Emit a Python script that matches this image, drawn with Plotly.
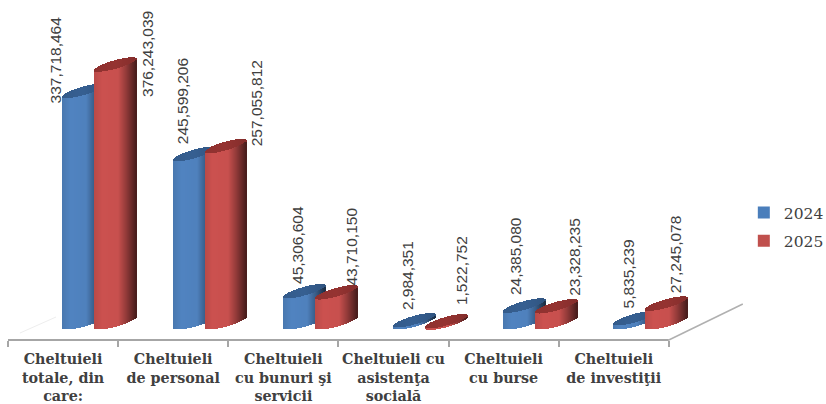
import numpy as np
import plotly.graph_objects as go

categories = ["Cheltuieli<br>totale, din<br>care:", "Cheltuieli<br>de personal",
              "Cheltuieli<br>cu bunuri şi<br>servicii", "Cheltuieli cu<br>asistenţa<br>socială",
              "Cheltuieli<br>cu burse", "Cheltuieli<br>de investiţii"]
values_2024 = [337718464, 245599206, 45306604, 2984351, 24385080, 5835239]
values_2025 = [376243039, 257055812, 43710150, 1522752, 23328235, 27245078]

# pixel geometry of the pseudo-3D look (style only)
W, H = 826, 404
AX_L, AX_Y = 8, 340
PX_X = 110.17
AX_END = AX_L + 6 * PX_X          # end of the drawn category axis
PLOT_R = AX_L + 7 * PX_X          # plot area runs one slot further for the perspective offset
PX_PER_UNIT = 0.685e-6
ZERO_Y = 322.25
HALF_W, TILT, MINOR = 21, 5.75, 4.4
OFFSETS = {"2024": 76, "2025": 108}
LABEL_DX = {"2024": [-29, -12, -7, -7, -9, -6], "2025": [31, 30, 15, 15, 18, 9]}
LABEL_DY = {"2024": [-14, 8, 5.5, 8, 8, 8], "2025": [-34.5, -2, 5, 14, 8, 8]}


def shade(u, base, stops_u, factors):
    f = np.interp(u, stops_u, factors)
    r = np.clip(np.array(base) * f, 0, 255).astype(int)
    return f"rgb({r[0]},{r[1]},{r[2]})"


def cylinder_trace(name, values, body, cap, legend_color):
    body_stops = ([-1, -0.6, 0.15, 0.55, 1], [0.93, 1.02, 1.0, 0.72, 0.36])
    cap_stops = ([-1, 0, 1], [0.95, 1.0, 0.88])
    xs, bases, heights, colors = [0.0], [0.0], [0.0], [legend_color]
    us = (np.arange(2 * HALF_W) + 0.5) / HALF_W - 1
    for i, v in enumerate(values):
        cx = i + OFFSETS[name] / PX_X
        for u in us:
            x = cx + u * HALF_W / PX_X
            mid = TILT * u
            half = MINOR * np.sqrt(1 - u * u)
            low = (mid - half) / PX_PER_UNIT
            up = (mid + half) / PX_PER_UNIT
            xs += [x, x]
            bases += [low, low + v]
            heights += [v, up - low]
            colors += [shade(u, body, *body_stops), shade(u, cap, *cap_stops)]
    return go.Bar(x=xs, y=heights, base=bases, width=1.25 / PX_X, name=name,
                  marker=dict(color=colors, line=dict(width=0)), hoverinfo="skip",
                  legendgroup=name)


fig = go.Figure()
fig.add_trace(cylinder_trace("2024", values_2024, (79, 129, 189), (55, 96, 146), "#4a7ebb"))
fig.add_trace(cylinder_trace("2025", values_2025, (200, 80, 78), (150, 52, 50), "#c0504d"))

for name, vals in (("2024", values_2024), ("2025", values_2025)):
    for i, v in enumerate(vals):
        fig.add_annotation(x=i + (OFFSETS[name] + LABEL_DX[name][i]) / PX_X, y=v, yshift=LABEL_DY[name][i],
                           text=f"{v:,}", textangle=-90, showarrow=False, yanchor="bottom", xanchor="center",
                           font=dict(family="Liberation Sans", size=15.5, color="#404040"))


def px(x):
    return (x - AX_L) / (PLOT_R - AX_L)


def py(y):
    return (AX_Y - y) / AX_Y


fig.add_shape(type="line", xref="paper", yref="paper", x0=px(AX_L), y0=0, x1=px(AX_END), y1=0,
              line=dict(color="#a6a6a6", width=2))
fig.add_shape(type="line", xref="paper", yref="paper", x0=px(669), y0=py(340), x1=px(743), y1=py(304),
              line=dict(color="#b0b0b0", width=1.5))
fig.add_shape(type="line", xref="paper", yref="paper", x0=px(20), y0=py(333), x1=px(56), y1=py(317),
              line=dict(color="#eeeeee", width=1))

fig.update_layout(
    width=W, height=H, barmode="overlay", bargap=0, paper_bgcolor="white", plot_bgcolor="white",
    margin=dict(l=AX_L, r=W - PLOT_R, t=0, b=H - AX_Y, autoexpand=False),
    showlegend=True,
    legend=dict(x=px(744), y=py(196), xanchor="left", yanchor="top", traceorder="grouped", tracegroupgap=5,
                font=dict(family="DejaVu Serif", size=15.5, color="#404040"), bgcolor="rgba(0,0,0,0)"),
    xaxis=dict(range=[0, 7], tickmode="array", tickvals=[i + 0.5 for i in range(6)], ticktext=categories,
               ticks="", showgrid=False, zeroline=False, showline=False,
               tickfont=dict(family="DejaVu Serif", size=14.3, color="#404040", weight=700), ticklabelstandoff=9,
               minor=dict(tickvals=list(range(7)), ticks="outside", ticklen=6, tickcolor="#a6a6a6", tickwidth=1.5)),
    yaxis=dict(range=[(ZERO_Y - AX_Y) / PX_PER_UNIT, ZERO_Y / PX_PER_UNIT], visible=False),
)
fig.write_html("out.html", config=dict(displayModeBar=False),
               post_script="document.body.style.margin='0';")
